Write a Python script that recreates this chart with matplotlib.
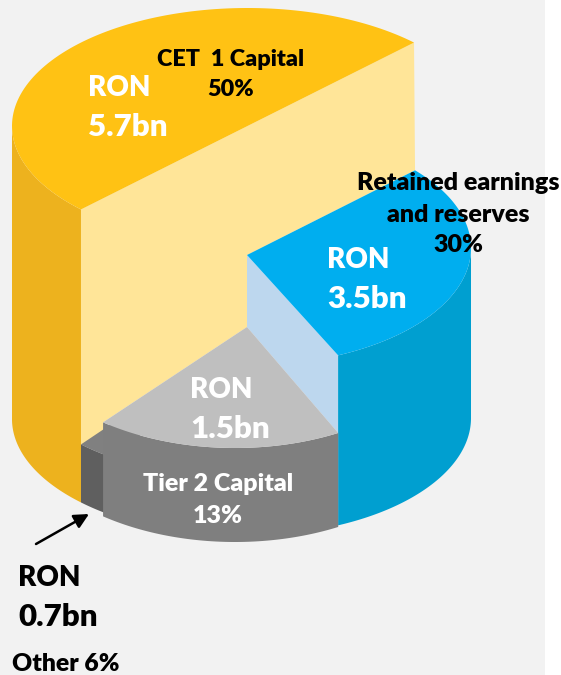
import numpy as np
import matplotlib.pyplot as plt
from matplotlib.patches import Rectangle

# ===================== DATA =====================
segmentos = ["CET  1 Capital", "Retained earnings\nand reserves", "Tier 2 Capital", "Other"]
porcentajes = [50, 30, 13, 6]
importes = [5.7, 3.5, 1.5, 0.7]

# angles (the drawing does not follow the shares exactly)
angulo_inicio = [45, 41.4, -62.7, -124]
angulo_fin = [225, -66, -125.9, -135]
# height of each block above its base, in pixels of the picture
alturas = [293, 170, 94, 58]

# ===================== STYLE =====================
ANCHO, ALTO = 561, 675
FUENTE = "Lato"

# the source drawing is hand built: each block has a slightly different ellipse
ELIPSE_CX = [247.5, 247, 235, 247.5]
ELIPSE_RX = [235.5, 224, 225, 235.5]
ELIPSE_RY = [118, 117.5, 135, 118]
BASE_CY = [419, 418, 407, 419]
# inner corner of each block's top face
VERTICE = [(247.5, 126), (247, 255), (247, 327), (247, 333)]

COLOR_FONDO = "#F2F2F2"
COLOR_TOPE = ["#FFC214", "#00AEEF", "#BFBFBF", "#808080"]
COLOR_LADO = ["#EDB21E", "#009FD0", "#7F7F7F", "#5F5F5F"]
COLOR_MURO_AMARILLO = "#FFE598"
COLOR_MURO_AZUL = "#BDD7EE"


def arco(i, inicio, fin, cy):
    t = np.radians(np.linspace(inicio, fin, 120))
    return ELIPSE_CX[i] + ELIPSE_RX[i] * np.cos(t), cy - ELIPSE_RY[i] * np.sin(t)


def punto(i, angulo, alto=True):
    cy = BASE_CY[i] - alturas[i] if alto else BASE_CY[i]
    x, y = arco(i, angulo, angulo, cy)
    return x[0], y[0]


def cara_superior(ax, i):
    x, y = arco(i, angulo_inicio[i], angulo_fin[i], BASE_CY[i] - alturas[i])
    ax.fill(np.r_[VERTICE[i][0], x], np.r_[VERTICE[i][1], y], color=COLOR_TOPE[i], lw=0)


def cara_lateral(ax, inicio, fin, i):
    x, y = arco(i, inicio, fin, BASE_CY[i] - alturas[i])
    xb, yb = arco(i, fin, inicio, BASE_CY[i])
    ax.fill(np.r_[x, xb], np.r_[y, yb], color=COLOR_LADO[i], lw=0)


fig = plt.figure(figsize=(ANCHO / 100, ALTO / 100), dpi=100)
ax = fig.add_axes([0, 0, 1, 1])
ax.set_xlim(0, ANCHO)
ax.set_ylim(ALTO, 0)
ax.axis("off")
ax.add_patch(Rectangle((0, 0), 545, ALTO, color=COLOR_FONDO, lw=0))

# yellow back wall, from the cut of the top face down to the lower steps
rim_gris = punto(2, angulo_fin[2])
muro = [punto(0, angulo_fin[0]), punto(0, angulo_inicio[0]), punto(1, angulo_inicio[1]),
        VERTICE[1], VERTICE[2], rim_gris, (rim_gris[0] + 5, rim_gris[1] + 30), punto(3, angulo_fin[3])]
ax.fill(*zip(*muro), color=COLOR_MURO_AMARILLO, lw=0)
cara_lateral(ax, 180, 225, 0)
cara_superior(ax, 0)

# other
cara_superior(ax, 3)
cara_lateral(ax, angulo_inicio[3], angulo_fin[3], 3)

# blue wall and blue block
muro_azul = [VERTICE[1], punto(1, angulo_fin[1]), punto(2, angulo_inicio[2]), VERTICE[2]]
ax.fill(*zip(*muro_azul), color=COLOR_MURO_AZUL, lw=0)
cara_lateral(ax, angulo_fin[1], 0, 1)
cara_superior(ax, 1)

# tier 2
cara_lateral(ax, angulo_fin[2], angulo_inicio[2], 2)
cara_superior(ax, 2)

ax.annotate("", xy=(89, 514), xytext=(36, 544),
            arrowprops=dict(arrowstyle="-|>", color="black", lw=1.8, mutation_scale=22, shrinkA=0, shrinkB=0))


def texto(x, y, s, size, color="black", ha="center"):
    ax.text(x, y, s, fontsize=size, color=color, ha=ha, va="center_baseline",
            family=FUENTE, fontweight="heavy")


def bloque(x, ys, lineas, size, color="black"):
    # one text per line, the line gaps differ a little in the reference
    for y, linea in zip(ys, lineas):
        texto(x, y, linea, size, color)


def etiqueta_ron(x, y, valor, color="white"):
    texto(x, y, "RON", 20, color, "left")
    texto(x, y + 39, f"{valor}bn", 22.5, color, "left")


etiqueta_ron(88, 85, importes[0])
etiqueta_ron(327, 258, importes[1])
etiqueta_ron(190, 388, importes[2])
etiqueta_ron(18, 576, importes[3], "black")

bloque(231, [58, 88], [segmentos[0], f"{porcentajes[0]}%"], 16.8)
bloque(458, [181, 213, 243], segmentos[1].split("\n") + [f"{porcentajes[1]}%"], 18)
bloque(218, [482, 514], [segmentos[2], f"{porcentajes[2]}%"], 18, "white")
texto(12, 662, f"{segmentos[3]} {porcentajes[3]}%", 17.8, "black", "left")

plt.savefig("out.png", dpi=100)
